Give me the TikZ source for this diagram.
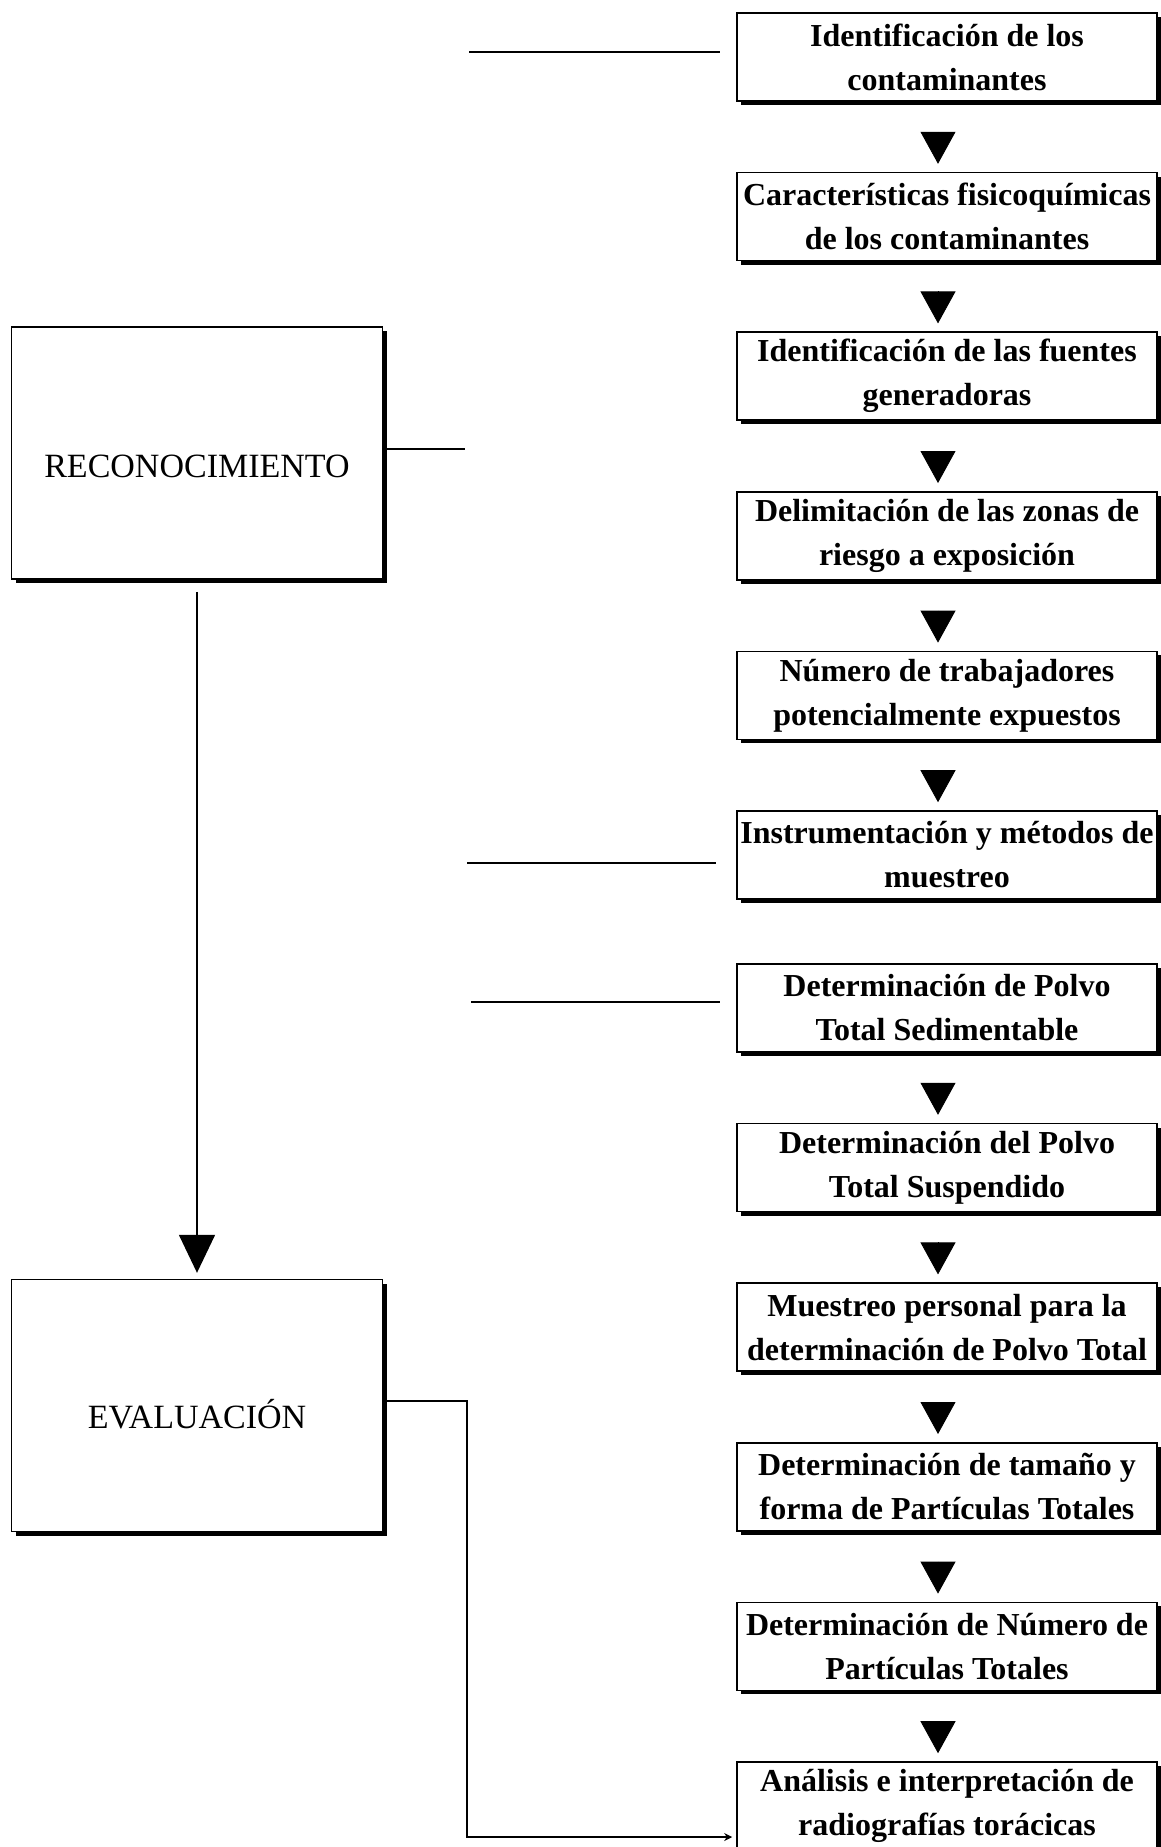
\documentclass[tikz,border=0pt]{standalone}
\usepackage{fontspec}
\setmainfont{Liberation Serif}
\usetikzlibrary{positioning, arrows.meta, shadows, calc}

\begin{document}
\begin{tikzpicture}[
  x=0.5pt, y=-0.5pt,
  node distance=35pt,
  paso/.style={draw, line width=0.8pt, fill=white, minimum width=210pt, minimum height=44pt, inner sep=1pt, align=center, font=\bfseries\fontsize{16}{22}\selectfont, drop shadow={shadow xshift=2pt, shadow yshift=-2pt, fill=black, opacity=1}},
  etapa/.style={draw, line width=0.8pt, fill=white, minimum width=185.5pt, minimum height=126pt, align=center, text depth=0pt, font=\fontsize{17}{22}\selectfont, drop shadow={shadow xshift=2pt, shadow yshift=-2pt, fill=black, opacity=1}},
  flecha/.style={-{Triangle[length=16pt, width=17.5pt]}, shorten <=15pt, shorten >=4pt, transform canvas={xshift=-4.5pt}},
  bajada/.style={-{Triangle[length=19pt, width=18pt]}, line width=0.75pt, shorten <=6pt, shorten >=3pt},
  linea/.style={line width=0.9pt}
]
  \useasboundingbox (0,0) rectangle (1161,1847);

  % etapas
  \node[etapa, text height=24pt] (recon) at (197,453) {RECONOCIMIENTO};
  \node[etapa, text height=22.5pt, below=349.5pt of recon] (eval) {EVALUACI\'ON};

  % pasos
  \node[paso] (b1) at (947,57) {Identificaci\'on de los\\contaminantes};
  \node[paso, below=of b1] (b2) {Caracter\'isticas fisicoqu\'imicas\\de los contaminantes};
  \node[paso, below=of b2] (b3) {Identificaci\'on de las fuentes\\generadoras};
  \node[paso, below=of b3] (b4) {Delimitaci\'on de las zonas de\\riesgo a exposici\'on};
  \node[paso, below=of b4] (b5) {N\'umero de trabajadores\\potencialmente expuestos};
  \node[paso, below=of b5] (b6) {Instrumentaci\'on y m\'etodos de\\muestreo};
  \node[paso, below=31.7pt of b6] (b7) {Determinaci\'on de Polvo\\Total Sedimentable};
  \node[paso, below=of b7] (b8) {Determinaci\'on del Polvo\\Total Suspendido};
  \node[paso, below=of b8] (b9) {Muestreo personal para la\\determinaci\'on de Polvo Total};
  \node[paso, below=of b9] (b10) {Determinaci\'on de tama\~no y\\forma de Part\'iculas Totales};
  \node[paso, below=of b10] (b11) {Determinaci\'on de N\'umero de\\Part\'iculas Totales};
  \node[paso, below=of b11] (b12) {An\'alisis e interpretaci\'on de\\radiograf\'ias tor\'acicas};

  \foreach \a/\b in {b1/b2, b2/b3, b3/b4, b4/b5, b5/b6, b7/b8, b8/b9, b9/b10, b10/b11, b11/b12}
    \draw[flecha] (\a) -- (\b);

  \draw[bajada] (recon) -- (eval);

  % conectores
  \coordinate (s1) at (469,52);
  \coordinate (s2) at (465,449);
  \coordinate (s3) at (467,863);
  \coordinate (s4) at (471,1002);
  \coordinate (s5) at (467,1401);
  \coordinate (s6) at (467,1837);
  \draw[linea, shorten >=8pt] (s1) -- (s1 -| b1.west);
  \draw[linea] (recon.east |- s2) -- (s2);
  \draw[linea, shorten >=10pt] (s3) -- (s3 -| b6.west);
  \draw[linea, shorten >=8pt] (s4) -- (s4 -| b7.west);
  \draw[linea, -{Stealth[length=4pt, width=4pt]}, shorten >=2pt] (eval.east |- s5) -- (s5) -- (s6) -- (s6 -| b12.west);
\end{tikzpicture}
\end{document}
